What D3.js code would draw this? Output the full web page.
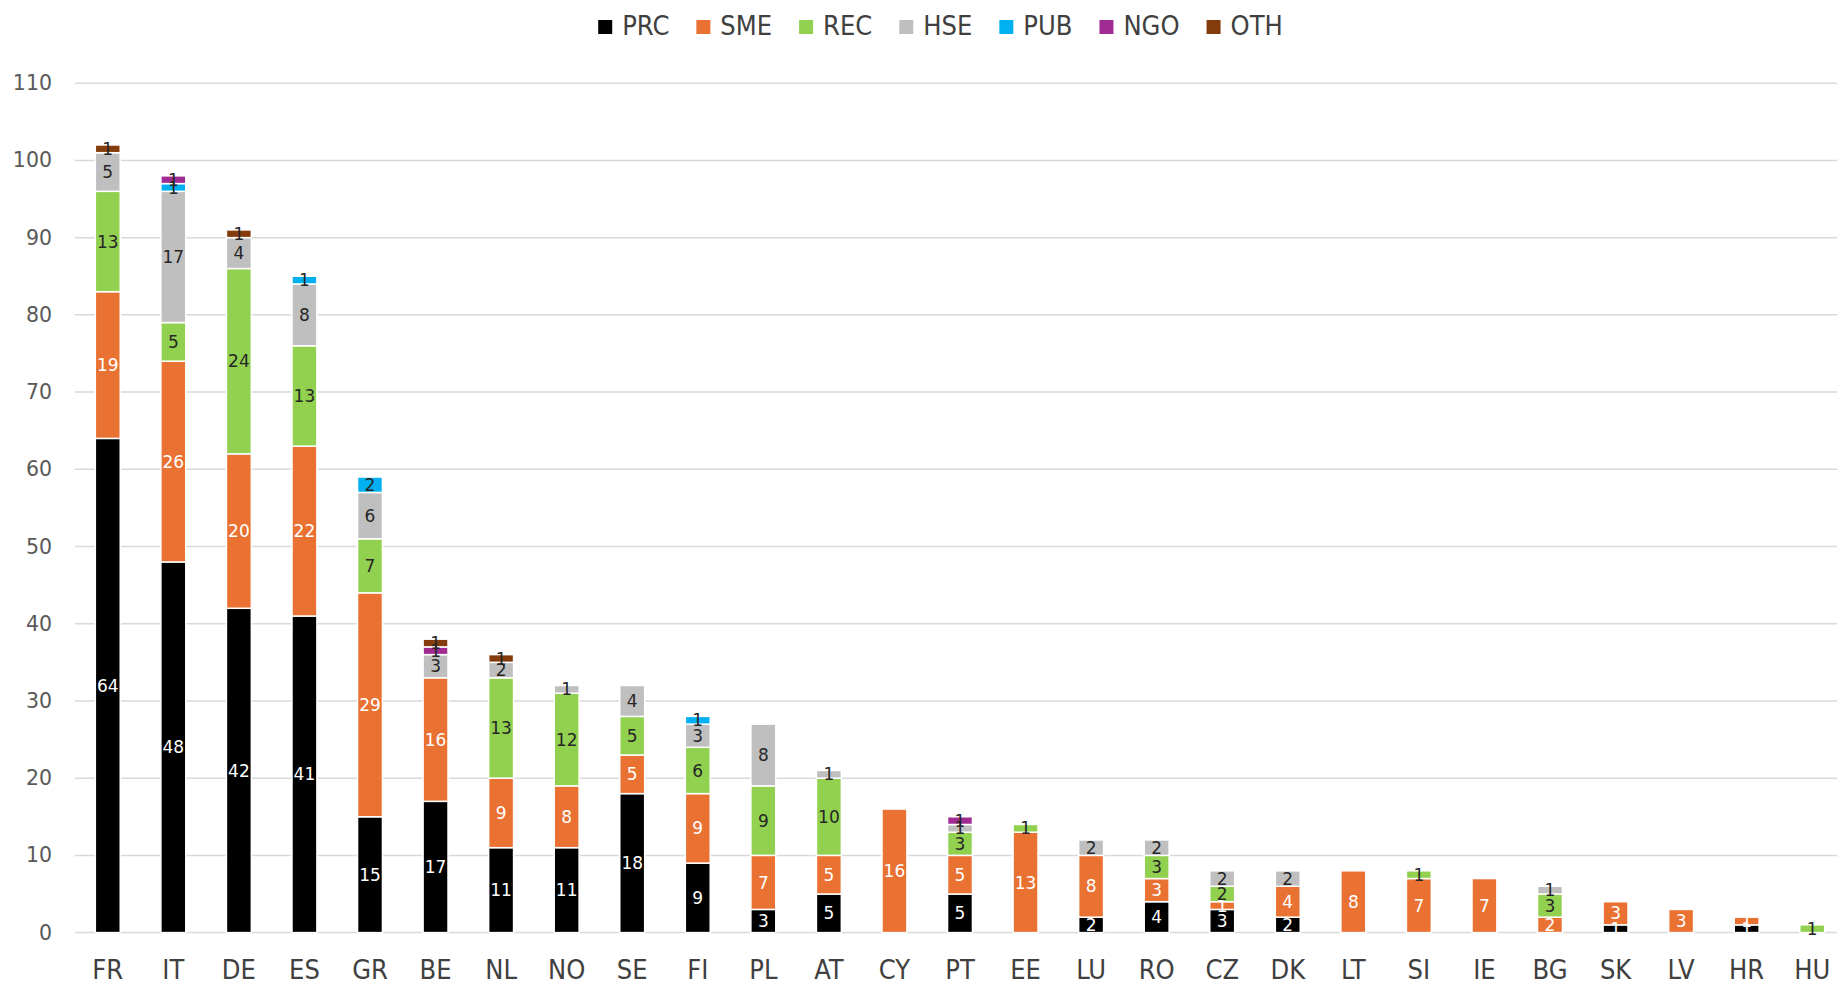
<!DOCTYPE html>
<html><head><meta charset="utf-8">
<script src="https://cdn.jsdelivr.net/npm/d3@7"></script>
<style>body{margin:0;background:#fff}svg{display:block}</style>
</head><body>
<script>
const countries = ["FR","IT","DE","ES","GR","BE","NL","NO","SE","FI","PL","AT","CY","PT","EE","LU","RO","CZ","DK","LT","SI","IE","BG","SK","LV","HR","HU"];
const seriesNames = ["PRC","SME","REC","HSE","PUB","NGO","OTH"];
const PRC = [64,48,42,41,15,17,11,11,18,9,3,5,0,5,0,2,4,3,2,0,0,0,0,1,0,1,0];
const SME = [19,26,20,22,29,16,9,8,5,9,7,5,16,5,13,8,3,1,4,8,7,7,2,3,3,1,0];
const REC = [13,5,24,13,7,0,13,12,5,6,9,10,0,3,1,0,3,2,0,0,1,0,3,0,0,0,1];
const HSE = [5,17,4,8,6,3,2,1,4,3,8,1,0,1,0,2,2,2,2,0,0,0,1,0,0,0,0];
const PUB = [0,1,0,1,2,0,0,0,0,1,0,0,0,0,0,0,0,0,0,0,0,0,0,0,0,0,0];
const NGO = [0,1,0,0,0,1,0,0,0,0,0,0,0,1,0,0,0,0,0,0,0,0,0,0,0,0,0];
const OTH = [1,0,1,0,0,1,1,0,0,0,0,0,0,0,0,0,0,0,0,0,0,0,0,0,0,0,0];
const yTicks = [0,10,20,30,40,50,60,70,80,90,100,110];

const colors = {PRC:"#000000",SME:"#E97132",REC:"#92D050",HSE:"#BFBFBF",PUB:"#00B0F0",NGO:"#A02B93",OTH:"#843C0C"};
const labelColors = {PRC:"#ffffff",SME:"#ffffff",REC:"#262626",HSE:"#262626",PUB:"#262626",NGO:"#262626",OTH:"#262626"};

const W = 1837, H = 984;
const seriesVals = {PRC,SME,REC,HSE,PUB,NGO,OTH};
const table = countries.map((c,i)=>{const o={country:c}; seriesNames.forEach(s=>o[s]=seriesVals[s][i]); return o;});
const stack = d3.stack().keys(seriesNames)(table);

const svg = d3.select("body").append("svg").attr("width",W).attr("height",H);
const x = d3.scaleBand().domain(countries).range([75,1845]).paddingInner(0.62).paddingOuter(0.31);
const y = d3.scaleLinear().domain([0,110]).range([932.6,83.2]);

// gridlines
svg.append("g").selectAll("line").data(yTicks).join("line")
  .attr("x1",75).attr("x2",W).attr("y1",d=>y(d)).attr("y2",d=>y(d))
  .attr("stroke","#d9d9d9").attr("stroke-width",1.5);

// y axis labels
const yAxis = svg.append("g").attr("transform","translate(52,0)")
  .call(d3.axisLeft(y).tickValues(yTicks).tickSize(0).tickPadding(0));
yAxis.select(".domain").remove();
yAxis.selectAll("text").attr("font-family","DejaVu Sans, sans-serif").attr("font-size",20.5).attr("fill","#595959");

// bars
const layers = svg.append("g").selectAll("g").data(stack).join("g").attr("fill",d=>colors[d.key]);
layers.selectAll("rect").data(d=>d.map(v=>({v,key:d.key}))).join("rect")
  .filter(d=>d.v[1]-d.v[0]>0)
  .attr("x",d=>x(d.v.data.country)).attr("width",x.bandwidth())
  .attr("y",d=>y(d.v[1])).attr("height",d=>y(d.v[0])-y(d.v[1]))
  .attr("stroke","#ffffff").attr("stroke-width",1.5);

// labels
const lab = svg.append("g").attr("font-family","DejaVu Sans, sans-serif").attr("font-size",17).attr("text-anchor","middle");
stack.forEach(layer=>{
  layer.forEach(v=>{
    const val = v[1]-v[0];
    if(val>0){
      lab.append("text").attr("x",x(v.data.country)+x.bandwidth()/2)
        .attr("y",(y(v[0])+y(v[1]))/2).attr("dy","0.36em")
        .attr("fill",labelColors[layer.key]).text(val);
    }
  });
});

// x axis
const xAxis = svg.append("g").attr("transform",`translate(0,${y(0)})`)
  .call(d3.axisBottom(x).tickSize(0).tickPadding(27));
xAxis.select(".domain").remove();
xAxis.selectAll("text").attr("font-family","Liberation Sans Narrow, DejaVu Sans Condensed, sans-serif").attr("font-size",27).attr("fill","#404040");

// legend
const leg = svg.append("g").attr("font-family","Liberation Sans Narrow, DejaVu Sans Condensed, sans-serif").attr("font-size",27).attr("fill","#404040");
const items = [];
seriesNames.forEach(s=>{
  const g = leg.append("g");
  g.append("rect").attr("x",0).attr("y",-15).attr("width",14).attr("height",14).attr("fill",colors[s]);
  const t = g.append("text").attr("x",24).attr("y",0).text(s);
  const w = 24 + t.node().getComputedTextLength();
  items.push({g,w});
});
const gap = 27;
const total = d3.sum(items,d=>d.w) + gap*(items.length-1);
let pos = (589+1292)/2 - total/2;
items.forEach(it=>{it.g.attr("transform",`translate(${pos},35)`); pos += it.w+gap;});
</script>
</body></html>
